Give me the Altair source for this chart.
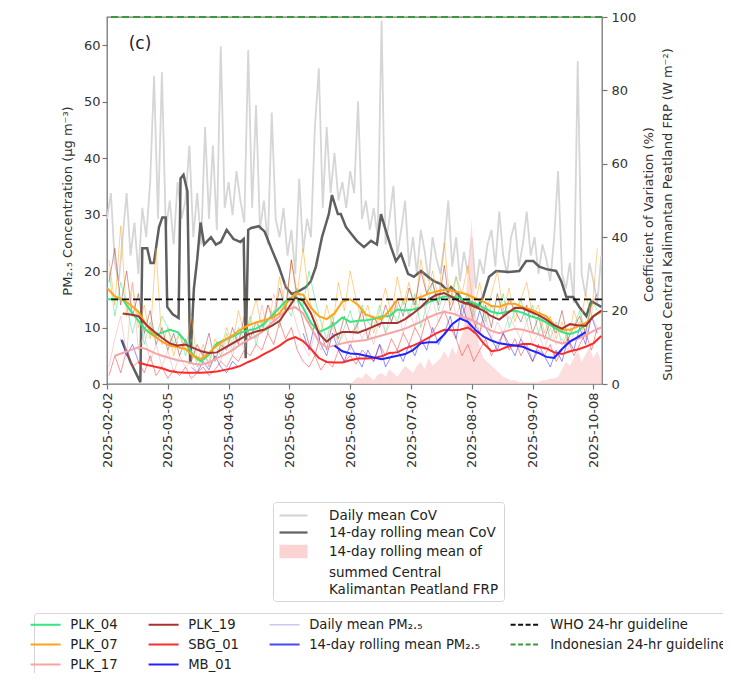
import altair as alt
import pandas as pd

# ---------------- data ----------------
START = "2025-02-02"
tick_dates = ["2025-02-02", "2025-03-05", "2025-04-05", "2025-05-06", "2025-06-06",
              "2025-07-07", "2025-08-07", "2025-09-07", "2025-10-08"]

sites = ["PLK_04", "PLK_07", "PLK_17", "PLK_19", "SBG_01", "MB_01"]

# 14-day rolling means, every 4 days from 2025-02-02 (ug m-3)
plk04_roll = [15, 15, 15, 13, 11.2, 9.5, 8.5, 9.1, 9.6, 9.2,
              7.6, 5, 4, 5.2, 7.2, 7.8, 8.4, 9.1, 9.5, 9.8,
              10.6, 12.1, 13.5, 15, 15.6, 13.5, 10.8, 9.2, 9.8, 10.6,
              11.8, 11, 11.2, 11.3, 11.5, 12, 12, 13.2, 13, 13.2,
              13.6, 14.5, 15, 15.5, 15.5, 15.2, 14.8, 14.2, 13.5, 12.8,
              12.5, 12.8, 13, 12.6, 12, 11.6, 10.9, 10, 9.2, 8.8,
              9.3, 10.6, 12, 12.8]
plk07_roll = [17, 15.5, 15, 14, 12.8, 10.5, 8.6, 7.5, 6.8, 6.5,
              6.2, 5, 4.4, 5.5, 6.8, 7.8, 8.6, 9.6, 10.4, 10.9,
              11.3, 11.7, 12.5, 14.5, 16, 15.8, 13.5, 12, 11.5, 12.5,
              14.6, 15, 14, 12.3, 11.8, 11.5, 13, 15, 15, 15,
              15.4, 16, 16.4, 16.7, 16.5, 16.2, 15.8, 15.1, 14.6, 13.8,
              13.7, 14.2, 14.2, 13.6, 13.2, 12.6, 12, 10.5, 9.6, 9.6,
              10.2, 10.8, 12, 12.8]
plk17_roll = [None, 5, 5.5, 6, 6.5, 6.2, 5.5, 5, 4.6, 4.2,
              4, 3.6, 3.4, 3.8, 4.6, 5.2, 6, 7, 7.8, 8.5,
              9.5, 10.8, 12, 13.2, 13.6, 12.5, 10, 7.5, 6.5, 6.8,
              7.2, 7.5, 7.6, 7.8, 8.2, 8.6, 9, 9.4, 9.8, 10.4,
              11, 11.8, 12.4, 12.8, 12.5, 12, 11.6, 11, 10.2, 9.4,
              9, 9.4, 9.8, 9.6, 9.2, 8.8, 8.2, 7.6, 7.2, 7.6,
              8, 8.6, 9.4, 10]
plk19_roll = [None, None, 12.5, 12.3, 12, 10.5, 9.3, 8.2, 7.2, 6.8,
              7, 6.4, 5.8, 5.5, 5.6, 6.4, 7.2, 8, 8.8, 9.3,
              9.6, 10.3, 11.2, 13.2, 15.3, 14.8, 12.5, 9, 7.5, 8.6,
              9.2, 9.2, 9.1, 9.6, 10.2, 10.8, 10.8, 10.8, 11.5, 12.5,
              13.6, 15, 15.8, 16.1, 15.4, 14.6, 14.2, 13.6, 13, 12,
              11.4, 12.5, 13.5, 13.4, 12.8, 12.2, 11.4, 10.4, 9.8, 10.6,
              10.4, 10.3, 12, 13]
sbg01_roll = [None, None, None, None, 3.8, 3.4, 3.1, 2.8, 2.3, 2.1,
              2, 2, 2, 2.1, 2.2, 2.5, 2.8, 3.2, 3.9, 4.5,
              5.3, 6, 6.8, 7.8, 8.3, 7.6, 6.2, 4.6, 3.9, 3.8,
              3.8, 4.2, 4.5, 4.5, 4.6, 4.9, 5.5, 5.6, 6.3, 6.8,
              7.4, 8.2, 9, 9.6, 9.5, 9.6, 10, 9, 7.2, 5.8,
              6, 6.6, 6.8, 7.1, 7.1, 6.6, 6.3, 5.6, 5.3, 5.8,
              6.1, 6.6, 7.2, 8.5]
mb01_roll = [None] * 29 + [
              6.8, 5.8, 5.4, 5.3, 5, 4.7, 4.4, 4.7, 5, 5.3,
              6, 7.2, 7.4, 7.4, 8.8, 10.6, 11.6, 11, 9.5, 8.4,
              7.7, 7.2, 7, 6.8, 6.6, 6, 5.5, 4.8, 4.6, 6.2,
              7.5, 8.3, 9.2] + [None, None]

# daily means, every 3 days from 2025-02-03 (ug m-3)
plk04_daily = [20, 12, 18, 14, 9, 13, 7, 11, 8, 12,
               10, 7, 9, 5, 8, 3, 5, 4, 7, 5,
               9, 6, 10, 8, 12, 7, 11, 9, 13, 10,
               14, 12, 17, 14, 20, 15, 11, 8, 12, 7,
               10, 13, 9, 14, 11, 10, 14, 9, 13, 11,
               15, 12, 16, 10, 14, 18, 13, 17, 15, 19,
               14, 16, 12, 15, 11, 14, 12, 16, 10, 13,
               15, 11, 14, 9, 12, 8, 11, 7, 9, 10,
               13, 9, 15, 13]
plk07_daily = [22, 14, 28, 12, 18, 10, 14, 8, 24, 7,
               10, 5, 9, 6, 12, 4, 7, 3, 8, 6,
               10, 7, 13, 9, 11, 15, 10, 14, 12, 19,
               13, 22, 16, 24, 15, 12, 9, 14, 10, 18,
               13, 20, 15, 11, 14, 9, 13, 17, 12, 19,
               14, 18, 13, 22, 16, 20, 15, 25, 14, 19,
               16, 21, 13, 18, 12, 16, 20, 13, 17, 11,
               15, 18, 12, 14, 9, 12, 8, 11, 7, 13,
               10, 16, 12, 24]
plk17_daily = [3, 8, 12, 5, 18, 6, 9, 4, 7, 3,
               6, 2, 5, 3, 4, 2, 6, 3, 5, 4,
               8, 5, 9, 6, 10, 8, 14, 9, 16, 12,
               18, 14, 10, 7, 5, 9, 6, 8, 10, 7,
               9, 6, 11, 8, 10, 7, 12, 9, 11, 14,
               9, 13, 10, 16, 12, 15, 11, 14, 17, 12,
               15, 10, 13, 9, 12, 8, 11, 9, 12, 10,
               8, 11, 7, 9, 6, 10, 7, 8, 6, 9,
               11, 8, 12, 10]
plk19_daily = [18, 24, 14, 20, 12, 16, 9, 13, 7, 10,
               6, 9, 5, 8, 4, 7, 5, 9, 4, 7,
               6, 10, 7, 12, 8, 11, 9, 14, 11, 17,
               13, 22, 15, 11, 7, 5, 9, 6, 11, 8,
               12, 9, 10, 13, 8, 12, 10, 14, 11, 15,
               12, 17, 14, 20, 16, 18, 14, 21, 13, 16,
               12, 15, 11, 9, 14, 10, 16, 12, 15, 13,
               11, 14, 9, 12, 8, 11, 9, 13, 8, 10,
               12, 9, 14, 16]
sbg01_daily = [1.5, 5, 2, 6, 3, 4, 2, 5, 1.5, 3,
               1, 2.5, 1.5, 3, 1, 2, 3, 1.5, 2.5, 4,
               3, 5, 4, 6, 5, 7, 6, 9, 7, 11,
               8, 10, 6, 4, 3, 5, 2.5, 4, 3, 6,
               4, 5, 3.5, 6, 5, 4, 7, 5, 8, 6,
               9, 7, 10, 8, 12, 9, 11, 13, 10, 8,
               5, 7, 4, 6, 8, 5, 7, 9, 6, 8,
               5, 7, 4, 6, 5, 7, 4, 6, 8, 5,
               7, 9, 6, 10]
mb01_daily = ([None, None, 8, 5, 7, 4] + [None] * 8 +
              [3, 2, 4, 2.5, 5, 3, 2, 4, 3] + [None] * 10 +
              [9, 6, 11, 7, 5, 9, 6, 4, 7, 5,
               3, 6, 4, 7, 3, 5, 6, 4, 7, 5,
               8, 6, 10, 7, 9, 12, 8, 14, 11, 9,
               13, 10, 8, 6, 9, 7, 5, 8, 6, 4,
               7, 5, 3, 6, 4, 8, 6, 10, 7, 12,
               9])

# daily mean CoV (%), every 2 days from 2025-02-02
cov_daily = [45, 52, 33, 28, 40, 52, 35, 44, 30, 48,
             40, 55, 84, 45, 85, 42, 50, 38, 55, 45,
             50, 65, 40, 52, 38, 70, 45, 65, 42, 92,
             48, 55, 46, 58, 50, 44, 91, 48, 76, 42,
             50, 38, 74, 45, 40, 48, 35, 42, 30, 56,
             36, 45, 40, 70, 86, 48, 70, 52, 63, 50,
             55, 48, 58, 52, 77, 45, 50, 42, 48, 40,
             99, 38, 45, 54, 35, 42, 50, 32, 40, 30,
             42, 36, 28, 40, 34, 30, 38, 50, 32, 40,
             28, 36, 30, 40, 26, 34, 30, 38, 42, 32,
             47, 35, 30, 40, 44, 32, 38, 47, 35, 40,
             30, 38, 34, 28, 40, 58, 30, 26, 33, 22,
             88, 30, 24, 33, 28, 22, 35]

# 14-day rolling mean CoV (%): day offsets from 2025-02-02 and values
cov_roll_days = [7.5, 12, 17, 18, 20.5, 22.2, 23.9, 26.5, 28.2, 29.9,
                 30.7, 33.5, 36.5, 37.5, 39, 41, 42.4, 44.3, 46, 47.7,
                 49.5, 53, 55.5, 58, 61, 64.5, 68, 69.7, 70.7, 72,
                 73.5, 77.4, 80.4, 83.5, 87.6, 91.2, 94.2, 97.8, 101.4, 103.9,
                 106.5, 109.6, 113.1, 114.7, 117.7, 119.2, 121.8, 124.4, 127.4, 131,
                 134.6, 137.6, 139.7, 142.2, 144.8, 147.3, 149.9, 153.5, 156.5, 160.1,
                 163.7, 166.7, 170.3, 173.9, 175.4, 179, 182, 185.6, 189.3, 191.7,
                 194.8, 198.4, 205, 210.2, 213.7, 217.3, 220.4, 224, 229, 231.6,
                 234.2, 237.7, 240.8, 244.4, 246.9, 249.5, 252]
cov_roll = [12, 6, 0.5, 37, 37, 33, 33, 42.7, 45.4, 45.4,
            21, 19, 18, 56, 57, 52.5, 5.5, 26, 34, 44,
            38, 40, 38, 38.7, 42, 39.5, 38.7, 39.5, 7, 42,
            42.5, 43, 41.5, 37.3, 32, 26.4, 24.5, 25.3, 26.4, 28,
            32, 40, 46.3, 51.5, 46.3, 46.3, 42.8, 41, 39, 37.3,
            39, 38, 46.3, 41.7, 37.3, 33.5, 35.4, 30, 29.2, 30.8,
            29.2, 28, 27.2, 25.3, 26.4, 24.5, 22, 22, 21, 23.7,
            29.2, 30.8, 30.5, 30.8, 33.5, 33.5, 32, 31.3, 30.8, 28,
            23.7, 23.7, 21, 18.5, 22.6, 21.8, 21]

# 14-day rolling mean of summed FRP (W m-2), every 2 days from 2025-02-02
frp = [0] * 63 + [
       1, 2, 1.5, 3, 2, 1, 2.5, 3, 2, 4,
       3, 2, 3.5, 5, 4, 3, 5, 6, 4, 7,
       5, 6, 7, 9, 7, 10, 8, 12, 15, 32,
       45, 15, 10, 7, 6, 5, 4, 3, 2, 1.5,
       1, 1, 0.5, 0.5, 0.5, 0.5, 0.5, 0.5, 1, 1,
       1.5, 1.5, 2, 4, 6, 5, 7, 9, 6, 8,
       10, 7, 9, 6]

WHO_GUIDE = 15
INDO_GUIDE = 65

# ---------------- tables ----------------
base = pd.Timestamp(START)


def stamp(offset):
    return (base + pd.Timedelta(days=float(offset))).strftime("%Y-%m-%dT%H:%M:%SZ")


roll_lists = dict(zip(sites, [plk04_roll, plk07_roll, plk17_roll, plk19_roll, sbg01_roll, mb01_roll]))
daily_lists = dict(zip(sites, [plk04_daily, plk07_daily, plk17_daily, plk19_daily, sbg01_daily, mb01_daily]))

rows = []
for s, vals in roll_lists.items():
    for i, v in enumerate(vals):
        if v is not None:
            rows.append({"date": stamp(4 * i), "value": v, "series": s})
df_roll = pd.DataFrame(rows)

rows = []
for s, vals in daily_lists.items():
    seg = 0
    for i, v in enumerate(vals):
        if v is None:
            seg += 1
            continue
        rows.append({"date": stamp(1 + 3 * i), "value": v, "series": s, "seg": f"{s}-{seg}"})
df_daily = pd.DataFrame(rows)

LBL_COV_D = "Daily mean CoV"
LBL_COV_R = "14-day rolling mean CoV"
LBL_FRP = ["14-day rolling mean of", "summed Central", "Kalimantan Peatland FRP"]
LBL_PM_D = "Daily mean PM₂.₅"
LBL_PM_R = "14-day rolling mean PM₂.₅"
LBL_WHO = "WHO 24-hr guideline"
LBL_INDO = "Indonesian 24-hr guideline"

df_cov_d = pd.DataFrame({"date": [stamp(2 * i) for i in range(len(cov_daily))],
                         "cov": cov_daily, "cs": LBL_COV_D})
df_cov_r = pd.DataFrame({"date": [stamp(d) for d in cov_roll_days], "cov": cov_roll, "cs": LBL_COV_R})
df_frp = pd.DataFrame({"date": [stamp(2 * i) for i in range(len(frp))], "cov": frp, "cs": LBL_FRP[0]})
df_guides = pd.DataFrame({"value": [WHO_GUIDE, INDO_GUIDE], "series": [LBL_WHO, LBL_INDO]})
df_tag = pd.DataFrame({"t": ["(c)"]})

# ---------------- encodings ----------------
def dt(s):
    y, m, d = (int(p) for p in s.split("-"))
    return alt.DateTime(year=y, month=m, date=d, utc=True)


x_scale = alt.Scale(type="utc", domain=[dt("2025-02-02"),
                                        alt.DateTime(year=2025, month=10, date=12, hours=9, utc=True)])
x_axis = alt.Axis(values=[dt(s) for s in tick_dates],
                  labelExpr="utcFormat(datum.value, '%Y-%m-%d')",
                  labelAngle=270, title=None, labelPadding=3)
X = alt.X("date:T", scale=x_scale, axis=x_axis)

yl_scale = alt.Scale(domain=[0, 65], nice=False)
yl_axis = alt.Axis(orient="left", values=[0, 10, 20, 30, 40, 50, 60],
                   title="PM₂.₅ Concentration (µg m⁻³)", titlePadding=9)
yr_scale = alt.Scale(domain=[0, 100], nice=False)
yr_axis = alt.Axis(orient="right", values=[0, 20, 40, 60, 80, 100], labelPadding=4,
                   title=["Coefficient of Variation (%)",
                          "Summed Central Kalimantan Peatland FRP (W m⁻²)"],
                   titleAngle=270, titleBaseline="top", titleX=40, titleY=197,
                   titleLineHeight=19)

# legend 2: Vega fills multi-column legends column-major, this order gives the reference rows
leg2_domain = ["PLK_04", "PLK_07", LBL_INDO,
               "PLK_19", "SBG_01", "PLK_17",
               LBL_PM_D, LBL_PM_R, "MB_01", LBL_WHO]
leg2_range = ["#33e680", "#ffa31a", "#3a9a3a",
              "#a83232", "#ff2b2b", "#f6a5a5",
              "#c9c9f2", "#4747ff", "#2222ff", "#111111"]
color2_scale = alt.Scale(domain=leg2_domain, range=leg2_range)
legend2 = alt.Legend(
    title=None, orient="none", legendX=-73, legendY=596, columns=4,
    symbolType="stroke", symbolSize=900, columnPadding=26, rowPadding=6,
    labelOffset=18, labelLimit=400, labelFontSize=13.2, symbolOpacity=1,
    symbolStrokeWidth=alt.ExprRef(f"datum.value == '{LBL_PM_D}' ? 1.4 : 2"),
    symbolDash=alt.ExprRef(
        f"(datum.value == '{LBL_WHO}' || datum.value == '{LBL_INDO}') ? [5, 2.5] : [1, 0]"),
)
C2 = alt.Color("series:N", scale=color2_scale, legend=legend2)

# legend 1: the FRP label runs over three entries; its patch is a stack of strokes
PATCH = ("M-2,-0.79H2M-2,-0.53H2M-2,-0.26H2M-2,0H2"
         "M-2,0.26H2M-2,0.53H2M-2,0.79H2")
LINE = "M-2,0H2"
leg1_domain = [LBL_COV_D, LBL_COV_R] + LBL_FRP
leg1_range = ["#d6d6d6", "#5f5f5f", "#fcd3d3", "transparent", "transparent"]
color1_scale = alt.Scale(domain=leg1_domain, range=leg1_range)
legend1 = alt.Legend(
    title=None, orient="none", legendX=166, legendY=485,
    symbolSize=196, symbolOffset=7, rowPadding=2, labelOffset=27, labelLimit=400,
    symbolOpacity=1, symbolStrokeWidth=2.2,
    symbolType=alt.ExprRef(f"datum.value == '{LBL_FRP[0]}' ? '{PATCH}' : '{LINE}'"),
)
C1 = alt.Color("cs:N", scale=color1_scale, legend=legend1)

# ---------------- right-axis group ----------------
YR = alt.Y("cov:Q", scale=yr_scale, axis=yr_axis)
cov_daily_line = alt.Chart(df_cov_d).mark_line(strokeWidth=1.8).encode(x=X, y=YR, color=C1)
frp_area = alt.Chart(df_frp).mark_area(fillOpacity=0.75).encode(x=X, y=YR, color=C1)
cov_roll_line = alt.Chart(df_cov_r).mark_line(strokeWidth=2.5).encode(x=X, y=YR, color=C1)
right_group = alt.layer(cov_daily_line, frp_area, cov_roll_line)

# ---------------- left-axis group ----------------
YL = alt.Y("value:Q", scale=yl_scale, axis=yl_axis)
daily_lines = alt.Chart(df_daily).mark_line(strokeWidth=1, opacity=0.5).encode(
    x=X, y=YL, color=C2, detail="seg:N")
roll_lines = alt.Chart(df_roll).mark_line(strokeWidth=2).encode(x=X, y=YL, color=C2)
guides = alt.Chart(df_guides).mark_rule(strokeDash=[7, 4], strokeWidth=1.8).encode(y=YL, color=C2)
tag = alt.Chart(df_tag).mark_text(fontSize=17, font="DejaVu Sans", color="#1a1a3a",
                                  align="center", baseline="middle").encode(
    x=alt.value(33), y=alt.value(27), text="t:N")
left_group = alt.layer(daily_lines, roll_lines, guides, tag)

chart = alt.layer(right_group, left_group).resolve_scale(
    y="independent", color="independent"
).properties(
    width=495, height=367,
    padding={"left": 99, "top": 9, "right": 121, "bottom": 289},
    autosize=alt.AutoSizeParams(type="none"),
).configure_view(
    stroke="#777777", strokeWidth=1.3
).configure_axis(
    labelFont="DejaVu Sans", labelFontSize=13, labelColor="#333333",
    titleFont="DejaVu Sans", titleFontSize=13, titleFontWeight="normal", titleColor="#333333",
    tickColor="#777777", tickSize=5, tickWidth=1.2, domain=False, grid=False
).configure_legend(
    labelFont="DejaVu Sans", labelFontSize=13.5, labelColor="#222222",
    strokeColor="#d5d5d5", fillColor="white", cornerRadius=3, padding=5
)

chart.save("out.html", embed_options={"renderer": "svg", "actions": False})
